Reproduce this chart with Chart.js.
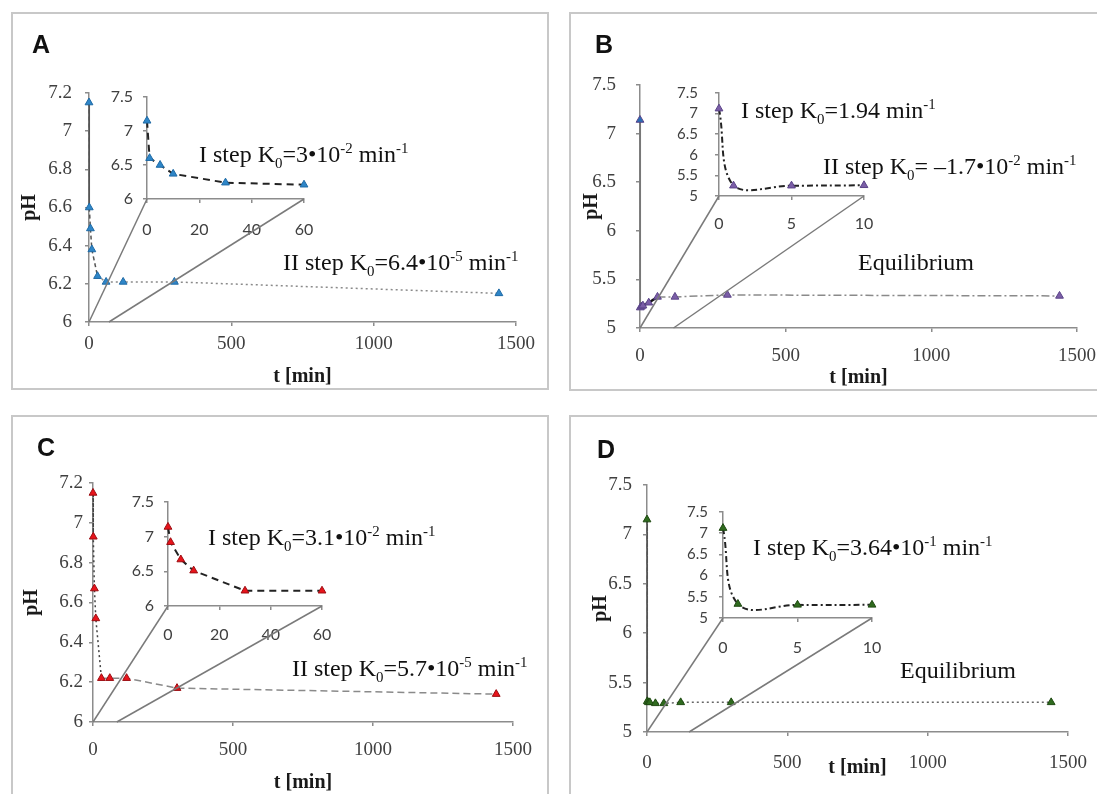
<!DOCTYPE html>
<html>
<head>
<meta charset="utf-8">
<title>pH vs time, panels A-D</title>
<script src="https://cdn.jsdelivr.net/npm/chart.js@4.4.0/dist/chart.umd.min.js"></script>
<style>
    body {
        margin: 0;
        width: 1097px;
        height: 794px;
        overflow: hidden;
        background: #fff;
        position: relative;
    }
    .panel {
        position: absolute;
        box-sizing: border-box;
        border: 2px solid #c8c8c8;
        background: #fff;
    }
    .panel canvas {
        position: absolute;
        left: -2px;
        top: -2px;
    }
    .tag {
        position: absolute;
        font: bold 25px "Liberation Sans", Arial, sans-serif;
        line-height: 1;
        color: #111;
    }
    .note {
        position: absolute;
        font: 24px "Liberation Serif", "Times New Roman", serif;
        line-height: 1;
        white-space: nowrap;
        color: #111;
        z-index: 3;
    }
    .note sub, .note sup {
        font-size: 62%;
        line-height: 0;
    }
</style>
</head>
<body>
    <div class="panel" id="pA" style="left:11px;top:12px;width:538px;height:378px">
        <canvas id="A-main"></canvas>
        <canvas id="A-inset"></canvas>
        <div class="tag" style="left:19px;top:18px">A</div>
        <div class="note" style="left:186px;top:128px">I step K<sub>0</sub>=3•10<sup>-2</sup> min<sup>-1</sup></div>
        <div class="note" style="left:270px;top:236px">II step K<sub>0</sub>=6.4•10<sup>-5</sup> min<sup>-1</sup></div>
    </div>
    <div class="panel" id="pB" style="left:569px;top:12px;width:540px;height:379px">
        <canvas id="B-main"></canvas>
        <canvas id="B-inset"></canvas>
        <div class="tag" style="left:24px;top:18px">B</div>
        <div class="note" style="left:170px;top:84px">I step K<sub>0</sub>=1.94 min<sup>-1</sup></div>
        <div class="note" style="left:252px;top:140px">II step K<sub>0</sub>= –1.7•10<sup>-2</sup> min<sup>-1</sup></div>
        <div class="note" style="left:287px;top:236px">Equilibrium</div>
    </div>
    <div class="panel" id="pC" style="left:11px;top:415px;width:538px;height:400px">
        <canvas id="C-main"></canvas>
        <canvas id="C-inset"></canvas>
        <div class="tag" style="left:24px;top:18px">C</div>
        <div class="note" style="left:195px;top:108px">I step K<sub>0</sub>=3.1•10<sup>-2</sup> min<sup>-1</sup></div>
        <div class="note" style="left:279px;top:239px">II step K<sub>0</sub>=5.7•10<sup>-5</sup> min<sup>-1</sup></div>
    </div>
    <div class="panel" id="pD" style="left:569px;top:415px;width:540px;height:400px">
        <canvas id="D-main"></canvas>
        <canvas id="D-inset"></canvas>
        <div class="tag" style="left:26px;top:20px">D</div>
        <div class="note" style="left:182px;top:118px">I step K<sub>0</sub>=3.64•10<sup>-1</sup> min<sup>-1</sup></div>
        <div class="note" style="left:329px;top:241px">Equilibrium</div>
    </div>
<script>
// sampling times (min), shared by all four main plots
const timeMin = [0, 1, 5, 10, 30, 60, 120, 300, 1440];
const pH_A = [7.15, 6.60, 6.49, 6.38, 6.24, 6.21, 6.21, 6.21, 6.15];
const pH_B = [7.14, 5.21, 5.22, 5.23, 5.26, 5.32, 5.32, 5.34, 5.33];
const pH_C = [7.15, 6.93, 6.67, 6.52, 6.22, 6.22, 6.22, 6.17, 6.14];
const pH_D = [7.15, 5.31, 5.30, 5.30, 5.29, 5.29, 5.30, 5.30, 5.30];

// insets (first step)
const timeInA = [0, 1, 5, 10, 30, 60];
const pHInA = [7.15, 6.60, 6.50, 6.37, 6.24, 6.21];
const timeInB = [0, 1, 5, 10];
const pHInB = [7.12, 5.25, 5.25, 5.26];
const timeInC = [0, 1, 5, 10, 30, 60];
const pHInC = [7.14, 6.92, 6.67, 6.51, 6.22, 6.22];
const timeInD = [0, 1, 5, 10];
const pHInD = [7.12, 5.33, 5.31, 5.31];

// zoom connector ends: [main t] -> [inset t], both on the x axis
const zoomMainA = [0, 70], zoomInA = [0, 60];
const zoomMainB = [0, 115], zoomInB = [0, 10];
const zoomMainC = [0, 85], zoomInC = [0, 60];
const zoomMainD = [0, 150], zoomInD = [0, 10];

const tickMainX = [0, 1500, 500];
const tickMainA = [6, 7.2, 0.2];
const tickMainB = [5, 7.5, 0.5];
const tickIn60 = [0, 60, 20];
const tickIn10 = [0, 10, 5];
const tickInY6 = [6, 7.5, 0.5];
const tickInY5 = [5, 7.5, 0.5];

Chart.defaults.animation = false;
Chart.defaults.font.family = "'Liberation Serif', 'Times New Roman', serif";
Chart.defaults.color = '#404040';

const AXIS = '#8c8c8c';
const panels = {
    A: {x: 11, y: 12, w: 538, h: 378},
    B: {x: 569, y: 12, w: 540, h: 379},
    C: {x: 11, y: 415, w: 538, h: 400},
    D: {x: 569, y: 415, w: 540, h: 400}
};

function pts(xs, ys) {
    return xs.map((x, i) => ({x: x, y: ys[i]}));
}
function fmt(v) {
    return String(Math.round(v * 10) / 10);
}

function makeChart(p, id, area, o) {
    const cv = document.getElementById(id);
    cv.width = p.w;
    cv.height = p.h;
    const l = area.l - p.x, t = area.t - p.y, r = area.r - p.x, b = area.b - p.y;
    const title = (text) => text ? {display: true, text: text, padding: 0, color: '#1a1a1a',
        font: {size: 20, weight: 'bold'}} : {display: false};
    return new Chart(cv, {
        type: 'line',
        data: {datasets: o.datasets},
        options: {
            responsive: false,
            animation: false,
            layout: {padding: {left: l - o.yW, top: t, right: p.w - r, bottom: p.h - b - o.xH}},
            plugins: {legend: {display: false}, tooltip: {enabled: false}},
            scales: {
                x: {
                    type: 'linear', min: o.x[0], max: o.x[1],
                    afterFit: s => { s.height = o.xH; },
                    ticks: {stepSize: o.x[2], maxRotation: 0, autoSkip: false, padding: o.xPad,
                        font: o.xFont, color: '#404040', callback: fmt},
                    grid: {drawOnChartArea: false, tickLength: 4, color: AXIS, lineWidth: 1.5},
                    border: {color: AXIS, width: 1.5},
                    title: title(o.xTitle)
                },
                y: {
                    type: 'linear', min: o.y[0], max: o.y[1],
                    afterFit: s => { s.width = o.yW; },
                    ticks: {stepSize: o.y[2], autoSkip: false, padding: o.yPad, font: o.yFont,
                        color: '#404040', callback: fmt},
                    grid: {drawOnChartArea: false, tickLength: 4, color: AXIS, lineWidth: 1.5},
                    border: {color: AXIS, width: 1.5},
                    title: title(o.yTitle)
                }
            }
        },
        plugins: o.plugins || []
    });
}

function connector(main, mainX, inX) {
    return {
        id: 'connector',
        afterDraw(ch) {
            const c = ch.ctx;
            c.save();
            c.strokeStyle = '#7a7a7a';
            c.lineWidth = 1.5;
            for (let i = 0; i < mainX.length; i++) {
                c.beginPath();
                c.moveTo(main.scales.x.getPixelForValue(mainX[i]), main.scales.y.getPixelForValue(main.scales.y.min));
                c.lineTo(ch.scales.x.getPixelForValue(inX[i]), ch.scales.y.getPixelForValue(ch.scales.y.min));
                c.stroke();
            }
            c.restore();
        }
    };
}

function series(data, color, edge, extra) {
    return Object.assign({
        data: data,
        showLine: true,
        clip: false,
        pointStyle: 'triangle',
        pointRadius: 4.5,
        pointBackgroundColor: color,
        pointBorderColor: edge,
        pointBorderWidth: 1,
        borderWidth: 1.5,
        tension: 0
    }, extra);
}

const mainX = {x: tickMainX, xFont: {size: 19}, yFont: {size: 19}, xTitle: 't [min]', yTitle: 'pH'};
const inFont = {size: 16, family: "Lato, 'Open Sans', sans-serif"};
const inFontSmall = {size: 15, family: "Lato, 'Open Sans', sans-serif"};

// ---- A ----
const aMain = makeChart(panels.A, 'A-main', {l: 89, r: 516, t: 93, b: 322}, Object.assign({}, mainX, {
    y: tickMainA, yW: 71, xH: 67, xPad: 7, yPad: 13,
    datasets: [series(pts(timeMin, pH_A), '#2e86c8', '#1f6aa5', {
        segment: {
            borderColor: c => c.p0DataIndex < 4 ? '#555' : '#8a8a8a',
            borderDash: c => c.p0DataIndex < 4 ? [4, 3] : [2, 3]
        }
    })]
}));
makeChart(panels.A, 'A-inset', {l: 147, r: 304, t: 97, b: 199}, {
    x: tickIn60, y: tickInY6, yW: 60, xH: 50, xPad: 17, yPad: 10, xFont: inFont, yFont: inFont,
    datasets: [series(pts(timeInA, pHInA), '#2e86c8', '#1f6aa5', {borderColor: '#222', borderWidth: 2, borderDash: [7, 5]})],
    plugins: [connector(aMain, zoomMainA, zoomInA)]
});

// ---- B ----
const bMain = makeChart(panels.B, 'B-main', {l: 640, r: 1077, t: 85, b: 328}, Object.assign({}, mainX, {
    y: tickMainB, yW: 60, xH: 62, xPad: 13, yPad: 20,
    datasets: [series(pts(timeMin, pH_B), c => c.dataIndex === 0 ? '#2a6db5' : '#7b5ea7', '#5a4388', {
        segment: {
            borderColor: c => c.p0DataIndex === 0 ? '#777' : (c.p0DataIndex < 5 ? '#111' : '#8a8a8a'),
            borderWidth: c => (c.p0DataIndex > 0 && c.p0DataIndex < 5) ? 2.5 : 1.5,
            borderDash: c => c.p0DataIndex === 0 ? [] : (c.p0DataIndex < 5 ? [] : [8, 3, 2, 3])
        }
    })]
}));
makeChart(panels.B, 'B-inset', {l: 719, r: 864, t: 93, b: 196}, {
    x: tickIn10, y: tickInY5, yW: 60, xH: 50, xPad: 14, yPad: 17, xFont: inFont, yFont: inFontSmall,
    datasets: [series(pts(timeInB, pHInB), '#7b5ea7', '#5a4388', {borderColor: '#222', borderWidth: 2,
        borderDash: [6, 3, 2, 3], tension: 0.4})],
    plugins: [connector(bMain, zoomMainB, zoomInB)]
});

// ---- C ----
const cMain = makeChart(panels.C, 'C-main', {l: 93, r: 513, t: 483, b: 722}, Object.assign({}, mainX, {
    y: tickMainA, yW: 73, xH: 73, xPad: 13, yPad: 6,
    datasets: [series(pts(timeMin, pH_C), '#e8141b', '#9b0d12', {
        segment: {
            borderColor: c => c.p0DataIndex < 4 ? '#444' : '#8a8a8a',
            borderDash: c => c.p0DataIndex < 4 ? [2, 3] : [7, 4]
        }
    })]
}));
makeChart(panels.C, 'C-inset', {l: 168, r: 322, t: 502, b: 606}, {
    x: tickIn60, y: tickInY6, yW: 60, xH: 50, xPad: 15, yPad: 10, xFont: inFont, yFont: inFont,
    datasets: [series(pts(timeInC, pHInC), '#e8141b', '#9b0d12', {borderColor: '#222', borderWidth: 2, borderDash: [7, 5]})],
    plugins: [connector(cMain, zoomMainC, zoomInC)]
});

// ---- D ----
const dMain = makeChart(panels.D, 'D-main', {l: 647, r: 1068, t: 485, b: 732}, Object.assign({}, mainX, {
    y: tickMainB, yW: 58, xH: 48, xPad: 16, yPad: 11,
    datasets: [series(pts(timeMin, pH_D), '#2f6b1e', '#1f4a12', {
        segment: {
            borderColor: c => c.p0DataIndex === 0 ? '#555' : '#666',
            borderDash: c => c.p0DataIndex === 0 ? [5, 3] : [2, 3]
        }
    })]
}));
makeChart(panels.D, 'D-inset', {l: 723, r: 872, t: 512, b: 618}, {
    x: tickIn10, y: tickInY5, yW: 60, xH: 50, xPad: 16, yPad: 11, xFont: inFont, yFont: inFontSmall,
    datasets: [series(pts(timeInD, pHInD), '#2f6b1e', '#1f4a12', {borderColor: '#222', borderWidth: 2,
        borderDash: [6, 3, 2, 3], tension: 0.4})],
    plugins: [connector(dMain, zoomMainD, zoomInD)]
});
</script>
</body>
</html>
